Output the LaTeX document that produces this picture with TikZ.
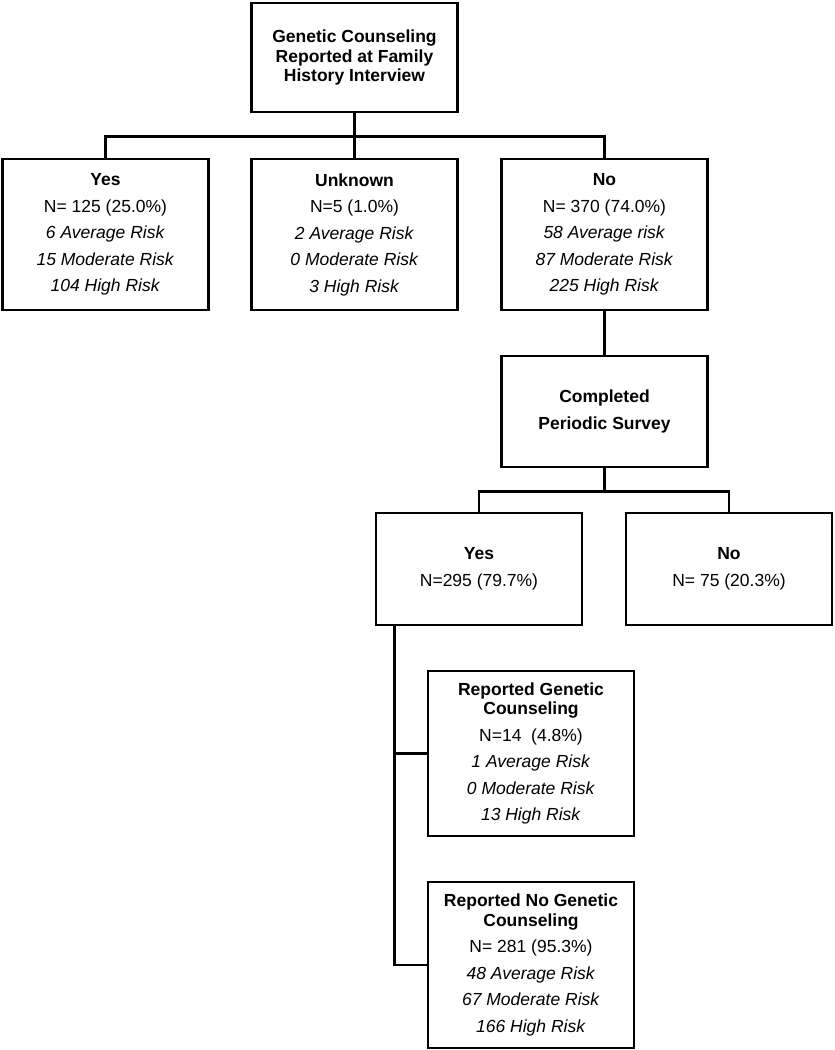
\documentclass[tikz,border=0pt]{standalone}
\usepackage{fontspec}
\setmainfont{Liberation Sans}
\usetikzlibrary{positioning}
\newcommand{\boxfont}{\fontsize{17.5}{26.5}\selectfont}

\begin{document}
\begin{tikzpicture}[
            x=1pt, y=1pt,
                base/.style = {rectangle, draw=black, line width=2.8pt,
                            minimum width=206pt, inner sep=0pt, text
                            centered, align=center, font=\boxfont},
                titlebox/.style = {base, minimum height=109pt},
                countbox/.style = {base, minimum height=151pt},
                surveybox/.style = {base, minimum height=112pt},
                subbox/.style = {base, minimum height=165pt},
                link/.style = {line width=2.5pt},
            node distance=250pt]
            \useasboundingbox (0,0) rectangle (835,-1050);
            \node (GCReported) [titlebox] at (354.5,-57.5) {
                \textbf{Genetic Counseling}\\[-7pt]
                \textbf{Reported at Family}\\[-7pt]
                \textbf{History Interview}
            };
            \node (Unknown) [countbox, below of=GCReported, yshift=73pt] {
                \textbf{Unknown}\\
                N=5 (1.0\%)\\
                \textit{2 Average Risk}\\
                \textit{0 Moderate Risk}\\
                \textit{3 High Risk}
            };
            \node (Yes) [countbox, left of=Unknown, xshift=1pt] {
                \textbf{Yes}\\
                N= 125 (25.0\%)\\
                \textit{6 Average Risk}\\
                \textit{15 Moderate Risk}\\
                \textit{104 High Risk}
            };
            \node (No) [countbox, right of=Unknown] {
                \textbf{No}\\
                N= 370 (74.0\%)\\
                \textit{58 Average risk}\\
                \textit{87 Moderate Risk}\\
                \textit{225 High Risk}
            };
            \node (Completed) [titlebox, minimum height=111pt, below of=No, yshift=73pt] {
                \textbf{Completed}\\
                \textbf{Periodic Survey}
            };
            \node (SurveyYes) [surveybox, below of=Completed, xshift=-125.5pt, yshift=92.5pt] {
                \textbf{Yes}\\
                N=295 (79.7\%)
            };
            \node (SurveyNo) [surveybox, right of=SurveyYes] {
                \textbf{No}\\
                N= 75 (20.3\%)
            };
            \node (ReportedGC) [subbox, below of=SurveyYes, xshift=52pt, yshift=65.5pt] {
                \textbf{Reported Genetic}\\[-7pt]
                \textbf{Counseling}\\
                N=14\ \ (4.8\%)\\
                \textit{1 Average Risk}\\
                \textit{0 Moderate Risk}\\
                \textit{13 High Risk}
            };
            \node (ReportedNoGC) [subbox, minimum height=166pt, below of=ReportedGC, yshift=38.5pt] {
                \textbf{Reported No Genetic}\\[-7pt]
                \textbf{Counseling}\\
                N= 281 (95.3\%)\\
                \textit{48 Average Risk}\\
                \textit{67 Moderate Risk}\\
                \textit{166 High Risk}
            };
            \coordinate (FirstSplit) at ([yshift=-23pt]GCReported.south);
            \coordinate (SurveySplit) at ([yshift=-23pt]Completed.south);
            \coordinate (Trunk) at ([xshift=20pt]SurveyYes.south west);
            \draw[link] (GCReported.south) -- (FirstSplit);
            \draw[link] (Yes.north)        |- (FirstSplit) -| (No.north);
            \draw[link] (FirstSplit)       -- (Unknown.north);
            \draw[link] (No.south)         -- (Completed.north);
            \draw[link] (Completed.south)  -- (SurveySplit);
            \draw[link] (SurveyYes.north)  |- (SurveySplit) -| (SurveyNo.north);
            \draw[link] (Trunk)            |- (ReportedNoGC.west);
            \draw[link] (Trunk |- ReportedGC.west) -- (ReportedGC.west);
        \end{tikzpicture}
\end{document}
